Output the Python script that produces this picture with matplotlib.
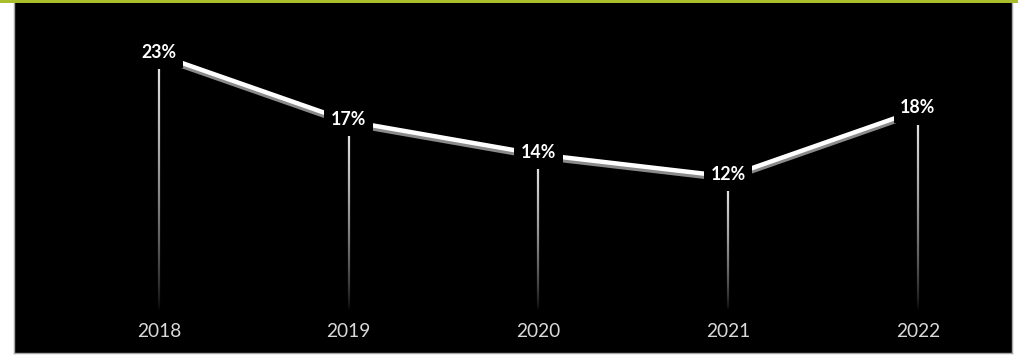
import numpy as np
import matplotlib
matplotlib.use('Agg')
from matplotlib import pyplot as plt
from matplotlib import patheffects as pe
from matplotlib.collections import LineCollection
from matplotlib.patches import Rectangle

# Data
years = ['2018', '2019', '2020', '2021', '2022']
share = [23, 17, 14, 12, 18]
labels = ['23%', '17%', '14%', '12%', '18%']

plt.rcParams['font.family'] = ['Lato', 'DejaVu Sans']

fig = plt.figure(figsize=(10.18, 3.55), dpi=100, facecolor='white')
ax = fig.add_axes([14 / 1018, 2 / 355, 998 / 1018, 350 / 355])
ax.set_facecolor('black')

# green strip along the top edge
fig.patches.append(Rectangle((0, 352 / 355), 1, 3 / 355, transform=fig.transFigure,
                             facecolor='#aabd2c', edgecolor='none', zorder=5))

x = np.arange(len(years))
ax.set_xlim(-0.764, 4.496)
ax.set_ylim(-3.98, 27.7)

# drop lines fading out towards the baseline
gap = 1.3
n = 80
for xi, v in zip(x, share):
    ys = np.linspace(v - gap, 0, n + 1)
    segs = [[(xi, ys[k]), (xi, ys[k + 1])] for k in range(n)]
    t = 1 - np.arange(n) / n
    cols = np.zeros((n, 4))
    cols[:, :3] = 0.88
    cols[:, 3] = np.clip(t, 0, 1) ** 0.7
    ax.add_collection(LineCollection(segs, colors=cols, linewidths=1.6, zorder=2))

# main line with a grey drop shadow
ax.plot(x, share, color='white', lw=3.2, solid_capstyle='butt', zorder=3,
        path_effects=[pe.SimpleLineShadow(offset=(0, -2.2), shadow_color='#8a8a8a', alpha=1),
                      pe.Normal()])

for xi, v, lab in zip(x, share, labels):
    ax.text(xi, v + 0.2, lab, ha='center', va='center', color='white', fontsize=12.8,
            fontweight='bold', zorder=4,
            bbox=dict(boxstyle='square,pad=0.38', facecolor='black', edgecolor='none'))
    ax.annotate(years[xi], (xi, 0), xytext=(0, -16), textcoords='offset points',
                ha='center', va='center', color='#d9d9d9', fontsize=13.8)

ax.set_xticks([])
ax.set_yticks([])
for side in ['left', 'right', 'bottom']:
    ax.spines[side].set_color('#a6a6a6')
    ax.spines[side].set_linewidth(1)
ax.spines['top'].set_visible(False)

fig.savefig('out.png', dpi=100, facecolor='white')
